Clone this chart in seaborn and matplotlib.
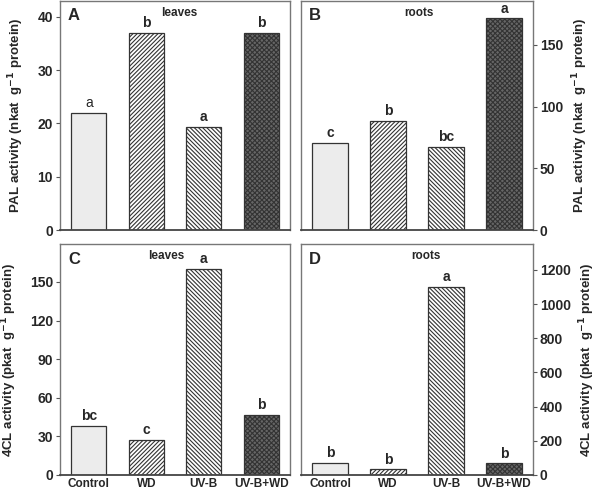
import matplotlib
matplotlib.use("Agg")
import matplotlib.pyplot as plt
import seaborn as sns

sns.set_theme(style="white")
plt.rcParams["font.family"] = ["Liberation Sans", "DejaVu Sans"]
plt.rcParams["font.weight"] = "bold"
plt.rcParams["hatch.linewidth"] = 0.8

treatments = ["Control", "WD", "UV-B", "UV-B+WD"]

pal_leaves = [22.0, 37.0, 19.4, 37.0]
pal_roots = [70.5, 88.5, 67.5, 171.5]
cl_leaves = [38.0, 27.0, 160.0, 46.5]
cl_roots = [72.0, 33.0, 1102.0, 68.0]

pal_leaves_sig = ["a", "b", "a", "b"]
pal_roots_sig = ["c", "b", "bc", "a"]
cl_leaves_sig = ["bc", "c", "a", "b"]
cl_roots_sig = ["b", "b", "a", "b"]

pal_label = "PAL activity (nkat  g$^{\\mathbf{-1}}$ protein)"
cl_label = "4CL activity (pkat  g$^{\\mathbf{-1}}$ protein)"

# bar styling: fill, hatch
styles = [("#ececec", ""), ("white", "////////"), ("white", "\\\\\\\\\\\\\\\\"), ("#666666", "xxxxxxx")]

fig = plt.figure(figsize=(5.96, 4.95), dpi=100)
W = 596
H = 495


def make_ax(x0, x1, ytop, ybot):
    return fig.add_axes([x0 / W, 1 - ybot / H, (x1 - x0) / W, (ybot - ytop) / H])


panels = [
    (make_ax(60, 290, 1, 230), pal_leaves, pal_leaves_sig, 43, range(0, 41, 10), "A", "leaves", 0.52, "left", pal_label),
    (make_ax(301, 533, 1, 230), pal_roots, pal_roots_sig, 185.5, range(0, 151, 50), "B", "roots", 0.51, "right", pal_label),
    (make_ax(60, 290, 244, 475), cl_leaves, cl_leaves_sig, 179.5, range(0, 151, 30), "C", "leaves", 0.46, "left", cl_label),
    (make_ax(301, 533, 244, 475), cl_roots, cl_roots_sig, 1352, range(0, 1201, 200), "D", "roots", 0.54, "right", cl_label),
]

for i, (ax, vals, sig, ymax, ticks, letter, organ, ox, side, ylabel) in enumerate(panels):
    sns.barplot(x=treatments, y=vals, ax=ax, width=0.61, color="white")
    for p, (fc, hatch) in zip(ax.patches, styles):
        p.set_facecolor(fc)
        p.set_hatch(hatch)
        p.set_edgecolor("#333333")
        p.set_linewidth(0.9)
    ax.set_xlim(-0.5, 3.5)
    ax.set_ylim(0, ymax)
    ax.set_yticks(list(ticks))
    ax.set_xlabel("")
    for s in ax.spines.values():
        s.set_color("#777777")
        s.set_linewidth(1.0)
    ax.spines["bottom"].set_color("#444444")
    ax.spines["bottom"].set_linewidth(1.3)

    if side == "right":
        ax.yaxis.tick_right()
        ax.yaxis.set_label_position("right")
    ax.set_ylabel(ylabel, fontsize=9.5, fontweight="bold",
                  labelpad=8 if side == "left" else 5)
    ax.tick_params(axis="y", direction="out", length=3, width=0.8, color="#555555",
                   labelsize=10, pad=2, left=(side == "left"), right=(side == "right"))
    for lab in ax.get_yticklabels():
        lab.set_fontweight("bold")

    if i < 2:
        ax.set_xticks([])
    else:
        ax.tick_params(axis="x", bottom=False, length=0, labelsize=8.5, pad=2)
        for lab in ax.get_xticklabels():
            lab.set_fontweight("bold")

    ax.text(0.035, 0.935, letter, transform=ax.transAxes, fontsize=12,
            fontweight="bold", va="center", ha="left")
    ax.text(ox, 0.948, organ, transform=ax.transAxes, fontsize=8.5,
            fontweight="bold", va="center", ha="center")

    for j, (v, s) in enumerate(zip(vals, sig)):
        w = "normal" if (i == 0 and j == 0) else "bold"
        ax.annotate(s, (j, v), xytext=(0, 2), textcoords="offset points",
                    ha="center", va="bottom", fontsize=10, fontweight=w)

fig.savefig("out.png", dpi=100)
